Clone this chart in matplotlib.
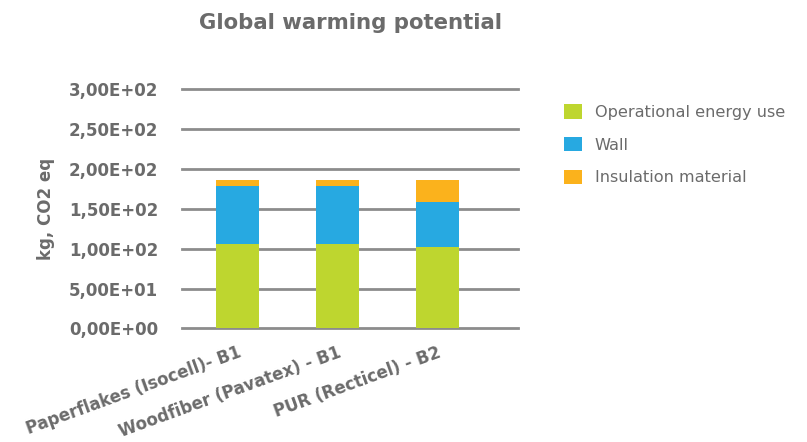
import matplotlib.pyplot as plt
from matplotlib.ticker import FuncFormatter, MultipleLocator

# Global warming potential per insulation option (kg CO2 eq)
categories = ['Paperflakes (Isocell)- B1', 'Woodfiber (Pavatex) - B1', 'PUR (Recticel) - B2']
operational = [106, 106, 102.5]
wall = [72.5, 72.5, 56]
insulation = [8, 8, 28]

grey = '#6b6b6b'
colors = ['#bed62f', '#27a9e1', '#fbb21c']

fig = plt.figure(figsize=(8.07, 4.42), dpi=100)
ax = fig.add_axes([0.2255, 0.2568, 0.4165, 0.5418])

x = list(range(len(categories)))
w = 0.436
b1 = ax.bar(x, operational, w, color=colors[0], label='Operational energy use', zorder=3)
b2 = ax.bar(x, wall, w, bottom=operational, color=colors[1], label='Wall', zorder=3)
bottom3 = [a + b for a, b in zip(operational, wall)]
b3 = ax.bar(x, insulation, w, bottom=bottom3, color=colors[2], label='Insulation material', zorder=3)

ax.set_xlim(-0.555, 2.805)
ax.set_ylim(0, 300)
ax.yaxis.set_major_locator(MultipleLocator(50))
ax.yaxis.set_major_formatter(FuncFormatter(lambda v, p: f'{v:.2E}'.replace('.', ',')))
ax.grid(axis='y', color='#8c8c8c', linewidth=2, zorder=0)
ax.set_axisbelow(True)
for line in ax.get_ygridlines():
    line.set_clip_on(False)
for s in ax.spines.values():
    s.set_visible(False)

ax.tick_params(axis='y', length=0, pad=17, labelsize=12, labelcolor=grey)
ax.tick_params(axis='x', length=0, pad=11, labelsize=12, labelcolor=grey)
for t in ax.get_yticklabels():
    t.set_fontweight('bold')
ax.set_xticks(x)
ax.set_xticklabels(categories, rotation=20, ha='right', rotation_mode='anchor', fontweight='bold')

ax.set_ylabel('kg, CO2 eq', fontsize=12, fontweight='bold', color=grey, labelpad=10)
fig.text(0.434, 0.948, 'Global warming potential', ha='center', va='center',
         fontsize=15.3, fontweight='bold', color=grey)

ax.legend(handles=[b1, b2, b3], loc='upper left', bbox_to_anchor=(1.094, 0.997),
          frameon=False, fontsize=11.6, labelcolor=grey, handlelength=1.1, handleheight=1.0,
          labelspacing=1.05, handletextpad=0.8)

fig.savefig('out.png', dpi=100)
